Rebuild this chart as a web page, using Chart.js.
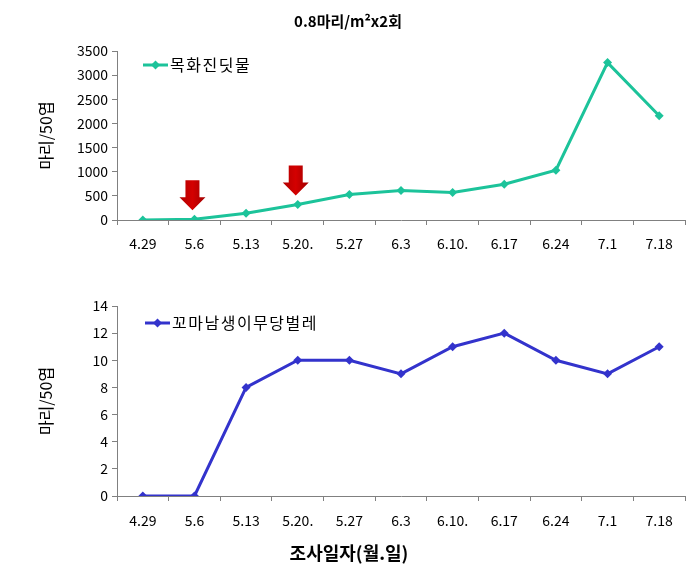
<!DOCTYPE html>
<html>
<head>
<meta charset="utf-8">
<script src="https://cdn.jsdelivr.net/npm/chart.js@4/dist/chart.umd.min.js"></script>
<style>
  html, body { margin: 0; padding: 0; background: #fff; }
  #wrap { position: relative; width: 700px; height: 573px; }
  #c1 { position: absolute; left: 0; top: 0; }
  #c2 { position: absolute; left: 0; top: 265px; }
</style>
</head>
<body>
<div id="wrap">
  <canvas id="c1" width="700" height="265"></canvas>
  <canvas id="c2" width="700" height="308"></canvas>
</div>
<script>
const categories = ['4.29', '5.6', '5.13', '5.20.', '5.27', '6.3', '6.10.', '6.17', '6.24', '7.1', '7.18'];
const aphidValues = [0, 15, 140, 320, 530, 610, 570, 740, 1030, 3260, 2160];
const ladybirdValues = [0, 0, 8, 10, 10, 9, 11, 12, 10, 9, 11];
const aphidLabel = '목화진딧물';
const ladybirdLabel = '꼬마남생이무당벌레';
const releaseIdx = [1, 3];
const titleText = '0.8마리/m²x2회';
const yTitleText = '마리/50엽';
const xTitleText = '조사일자(월.일)';

const FONT = '"Noto Sans CJK KR", "Noto Sans", sans-serif';
const TEAL = '#1cc39a';
const BLUE = '#3333cc';
const AXIS = '#808080';

Chart.defaults.font.family = FONT;
Chart.defaults.color = '#000';
Chart.defaults.animation = false;

function legendPlugin(id, dx, dy) {
  return {
    id: id,
    afterDraw(chart) {
      const ctx = chart.ctx;
      const ds = chart.data.datasets[0];
      const a = chart.chartArea;
      const x0 = a.left + dx, y = a.top + dy;
      ctx.save();
      ctx.strokeStyle = ds.borderColor;
      ctx.lineWidth = 3;
      ctx.beginPath(); ctx.moveTo(x0, y); ctx.lineTo(x0 + 25, y); ctx.stroke();
      ctx.fillStyle = ds.borderColor;
      ctx.beginPath();
      ctx.moveTo(x0 + 12.5, y - 4.5); ctx.lineTo(x0 + 17, y); ctx.lineTo(x0 + 12.5, y + 4.5); ctx.lineTo(x0 + 8, y);
      ctx.closePath(); ctx.fill();
      ctx.fillStyle = '#000';
      ctx.font = '16px ' + FONT;
      try { ctx.letterSpacing = '1.5px'; } catch (e) {}
      ctx.textBaseline = 'middle';
      ctx.textAlign = 'left';
      ctx.fillText(ds.label, x0 + 27, y);
      ctx.restore();
    }
  };
}

function yTitlePlugin(id) {
  return {
    id: id,
    afterDraw(chart) {
      const ctx = chart.ctx;
      const a = chart.chartArea;
      ctx.save();
      ctx.translate(46, (a.top + a.bottom) / 2);
      ctx.rotate(-Math.PI / 2);
      ctx.font = '16px ' + FONT;
      ctx.fillStyle = '#000';
      ctx.textAlign = 'center';
      ctx.textBaseline = 'middle';
      ctx.fillText(yTitleText, 0, 0);
      ctx.restore();
    }
  };
}

const titlePlugin = {
  id: 'topTitle',
  afterDraw(chart) {
    const ctx = chart.ctx;
    ctx.save();
    ctx.font = 'bold 15px ' + FONT;
    ctx.fillStyle = '#000';
    ctx.textAlign = 'center';
    ctx.textBaseline = 'middle';
    ctx.fillText(titleText, 348, 21);
    ctx.restore();
  }
};

const arrowPlugin = {
  id: 'arrows',
  afterDatasetsDraw(chart) {
    const ctx = chart.ctx;
    const meta = chart.getDatasetMeta(0);
    ctx.save();
    releaseIdx.forEach(i => {
      const p = meta.data[i];
      const cx = p.x - 2, tip = p.y - 9;
      const g = ctx.createLinearGradient(cx - 13, 0, cx + 13, 0);
      g.addColorStop(0, '#b00000');
      g.addColorStop(0.5, '#d40000');
      g.addColorStop(1, '#a00000');
      ctx.fillStyle = g;
      ctx.beginPath();
      ctx.moveTo(cx - 7, tip - 30);
      ctx.lineTo(cx + 7, tip - 30);
      ctx.lineTo(cx + 7, tip - 13);
      ctx.lineTo(cx + 13, tip - 13);
      ctx.lineTo(cx, tip);
      ctx.lineTo(cx - 13, tip - 13);
      ctx.lineTo(cx - 7, tip - 13);
      ctx.closePath();
      ctx.fill();
    });
    ctx.restore();
  }
};

const xTitlePlugin = {
  id: 'xTitle',
  afterDraw(chart) {
    const ctx = chart.ctx;
    ctx.save();
    ctx.font = 'bold 18px ' + FONT;
    ctx.fillStyle = '#000';
    ctx.textAlign = 'center';
    ctx.textBaseline = 'middle';
    ctx.fillText(xTitleText, 349, 553 - 265);
    ctx.restore();
  }
};

function makeOptions(yMax, yStep, padTop, xHeight, labelPad) {
  return {
    responsive: false,
    animation: false,
    layout: { padding: { top: padTop, right: 15, left: 0, bottom: 0 } },
    plugins: { legend: { display: false }, tooltip: { enabled: false }, title: { display: false } },
    scales: {
      x: {
        type: 'category',
        offset: true,
        grid: { display: true, offset: true, drawOnChartArea: false, drawTicks: true, tickLength: 5, color: AXIS },
        border: { display: true, color: AXIS, width: 1 },
        ticks: { font: { size: 14 }, color: '#000', padding: labelPad, maxRotation: 0, autoSkip: false },
        afterFit(s) { s.height = xHeight; }
      },
      y: {
        min: 0, max: yMax,
        ticks: { stepSize: yStep, font: { size: 14 }, color: '#000', padding: 4,
                 callback: v => String(v) },
        grid: { display: true, drawOnChartArea: false, drawTicks: true, tickLength: 5, color: AXIS },
        border: { display: true, color: AXIS, width: 1 },
        afterFit(s) { s.width = 117; }
      }
    }
  };
}

new Chart(document.getElementById('c1'), {
  type: 'line',
  data: {
    labels: categories,
    datasets: [{
      label: aphidLabel,
      data: aphidValues,
      borderColor: TEAL,
      backgroundColor: TEAL,
      borderWidth: 3,
      pointStyle: 'rectRot',
      pointRadius: 4.5,
      pointBorderWidth: 0,
      tension: 0
    }]
  },
  options: makeOptions(3500, 500, 51, 45, 10),
  plugins: [titlePlugin, arrowPlugin, legendPlugin('lg1', 26, 14), yTitlePlugin('yt1')]
});

new Chart(document.getElementById('c2'), {
  type: 'line',
  data: {
    labels: categories,
    datasets: [{
      label: ladybirdLabel,
      data: ladybirdValues,
      borderColor: BLUE,
      backgroundColor: BLUE,
      borderWidth: 3,
      pointStyle: 'rectRot',
      pointRadius: 4.5,
      pointBorderWidth: 0,
      tension: 0
    }]
  },
  options: makeOptions(14, 2, 41, 77, 11),
  plugins: [xTitlePlugin, legendPlugin('lg2', 28, 17), yTitlePlugin('yt2')]
});
</script>
</body>
</html>
